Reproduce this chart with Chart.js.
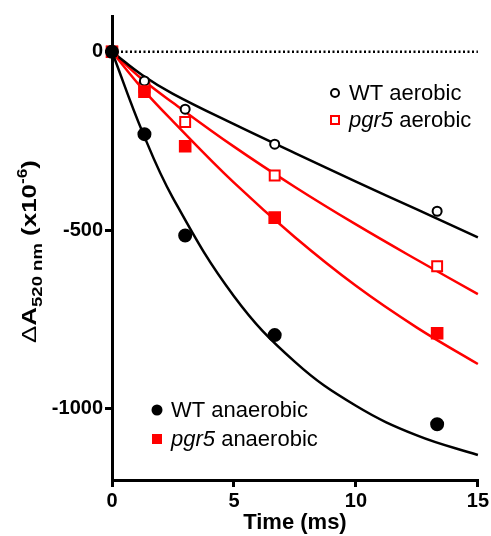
<!DOCTYPE html>
<html>
<head>
<meta charset="utf-8">
<script src="https://cdn.jsdelivr.net/npm/chart.js@4.4.0/dist/chart.umd.min.js"></script>
<style>
  html, body { margin: 0; padding: 0; background: #fff; }
  #wrap { position: relative; width: 491px; height: 536px; }
</style>
</head>
<body>
<div id="wrap"><canvas id="myChart"></canvas></div>
<script>
// measured points: time (ms) vs dA520 (x10^-6)
const timePoints = [0, 1.33, 3, 6.67, 13.33];
const wtAerobic = [0, -82, -161, -259, -447];
const pgr5Aerobic = [0, -100, -197, -347, -601];
const wtAnaerobic = [0, -231, -515, -794, -1044];
const pgr5Anaerobic = [0, -112, -265, -465, -789];

// fitted curves
const fitTimes = [0, 1.25, 2.5, 5, 7.5, 10, 12.5, 15];
const wtAerobicFit = [0, -66, -118, -203, -284, -364, -442, -520];
const pgr5AerobicFit = [0, -78, -143, -266, -379, -484, -583, -679];
const wtAnaerobicFit = [0, -225, -410, -685, -869, -992, -1075, -1130];
const pgr5AnaerobicFit = [0, -104, -195, -367, -520, -656, -773, -875];

const zeroLineX = [0, 15];
const zeroLineY = [0, 0];
const xTicks = [0, 5, 10, 15];
const yTicks = [-1000, -500, 0];

const RED = '#ff0000';
const BLACK = '#000000';
const FONT = '"Liberation Sans", Arial, Helvetica, sans-serif';

function toXY(xs, ys) {
    return xs.map((x, i) => ({ x: x, y: ys[i] }));
}

function pointSet(label, ys, style, color, filled, radius) {
    return {
        label: label,
        data: toXY(timePoints, ys),
        showLine: false,
        pointStyle: style,
        pointRadius: radius,
        pointHoverRadius: radius,
        pointBorderWidth: 2,
        pointBorderColor: color,
        pointBackgroundColor: filled ? color : '#ffffff',
        clip: false,
        order: 0
    };
}

function fitSet(ys, color) {
    return {
        data: toXY(fitTimes, ys),
        showLine: true,
        borderColor: color,
        borderWidth: 2.5,
        pointRadius: 0,
        tension: 0.4,
        clip: false,
        order: 1
    };
}

// legend + axis titles drawn by hand (italic gene name, sub/superscripts)
const textPlugin = {
    id: 'textPlugin',
    afterDraw(chart) {
        const ctx = chart.ctx;
        ctx.save();

        // x axis title
        ctx.fillStyle = BLACK;
        ctx.font = 'bold 22px ' + FONT;
        ctx.textAlign = 'center';
        ctx.textBaseline = 'middle';
        const ca = chart.chartArea;
        ctx.fillText('Time (ms)', (ca.left + ca.right) / 2, 523);

        // y axis title
        const parts = [
            { t: '\u0394', f: '21px ' + FONT, dy: 0 },
            { t: 'A', f: 'bold 21px ' + FONT, dy: 0 },
            { t: '520 nm', f: 'bold 15px ' + FONT, dy: 6 },
            { t: ' (x10', f: 'bold 21px ' + FONT, dy: 0 },
            { t: '-6', f: 'bold 14px ' + FONT, dy: -9 },
            { t: ')', f: 'bold 21px ' + FONT, dy: 0 }
        ];
        let total = 0;
        parts.forEach(p => { ctx.font = p.f; p.w = ctx.measureText(p.t).width; total += p.w; });
        const stretch = 183 / total;
        ctx.translate(36, 343);
        ctx.rotate(-Math.PI / 2);
        ctx.scale(stretch, 1);
        ctx.textAlign = 'left';
        ctx.textBaseline = 'alphabetic';
        let pos = 0;
        parts.forEach(p => { ctx.font = p.f; ctx.fillText(p.t, pos, p.dy); pos += p.w; });
        ctx.restore();

        // legends
        ctx.save();
        ctx.textBaseline = 'middle';
        ctx.textAlign = 'left';
        const drawEntry = (mx, my, kind, color, filled, gene, rest) => {
            ctx.lineWidth = 2;
            ctx.strokeStyle = color;
            ctx.fillStyle = color;
            ctx.beginPath();
            if (kind === 'circle') {
                const r = filled ? 5.5 : 4;
                ctx.arc(mx, my, r, 0, Math.PI * 2);
            } else {
                const s = filled ? 5 : 4;
                ctx.rect(mx - s, my - s, 2 * s, 2 * s);
            }
            if (filled) ctx.fill(); else ctx.stroke();
            let x = mx + 14;
            ctx.fillStyle = BLACK;
            if (gene) {
                ctx.font = 'italic 22px ' + FONT;
                ctx.fillText(gene, x, my + 1);
                x += ctx.measureText(gene).width;
            }
            ctx.font = '22px ' + FONT;
            ctx.fillText(rest, x, my + 1);
        };
        drawEntry(335, 93, 'circle', BLACK, false, '', 'WT aerobic');
        drawEntry(335, 120, 'rect', RED, false, 'pgr5', ' aerobic');
        drawEntry(157, 410, 'circle', BLACK, true, '', 'WT anaerobic');
        drawEntry(157, 439, 'rect', RED, true, 'pgr5', ' anaerobic');
        ctx.restore();
    }
};

const ctx = document.getElementById('myChart').getContext('2d');
const myChart = new Chart(ctx, {
    type: 'scatter',
    data: {
        datasets: [
            pointSet('WT anaerobic', wtAnaerobic, 'circle', BLACK, true, 6),
            pointSet('pgr5 anaerobic', pgr5Anaerobic, 'rect', RED, true, 7.5),
            pointSet('WT aerobic', wtAerobic, 'circle', BLACK, false, 4.5),
            pointSet('pgr5 aerobic', pgr5Aerobic, 'rect', RED, false, 7),
            fitSet(wtAerobicFit, BLACK),
            fitSet(pgr5AerobicFit, RED),
            fitSet(wtAnaerobicFit, BLACK),
            fitSet(pgr5AnaerobicFit, RED),
            {
                data: toXY(zeroLineX, zeroLineY),
                showLine: true,
                borderColor: BLACK,
                borderWidth: 2.5,
                borderDash: [2, 2.5],
                pointRadius: 0,
                order: 2
            }
        ]
    },
    options: {
        responsive: true,
        maintainAspectRatio: false,
        animation: false,
        events: [],
        layout: { padding: { top: 16, right: 10, left: 0, bottom: 0 } },
        plugins: {
            legend: { display: false },
            tooltip: { enabled: false }
        },
        scales: {
            x: {
                type: 'linear',
                min: 0,
                max: 15,
                afterBuildTicks: s => { s.ticks = xTicks.map(v => ({ value: v })); },
                afterFit: s => { s.height = 56; },
                ticks: {
                    color: BLACK,
                    font: { family: FONT, size: 20, weight: 'bold' },
                    padding: 2,
                    maxRotation: 0,
                    callback: v => String(v)
                },
                grid: {
                    drawOnChartArea: false,
                    drawTicks: true,
                    tickLength: 7,
                    lineWidth: 3,
                    color: BLACK
                },
                border: { display: true, width: 3, color: BLACK }
            },
            y: {
                type: 'linear',
                min: -1200,
                max: 100,
                afterBuildTicks: s => { s.ticks = yTicks.map(v => ({ value: v })); },
                afterFit: s => { s.width = 112; },
                ticks: {
                    color: BLACK,
                    font: { family: FONT, size: 20, weight: 'bold' },
                    padding: 2,
                    callback: v => String(v)
                },
                grid: {
                    drawOnChartArea: false,
                    drawTicks: true,
                    tickLength: 7,
                    lineWidth: 3,
                    color: BLACK
                },
                border: { display: true, width: 3, color: BLACK }
            }
        }
    },
    plugins: [textPlugin]
});
</script>
</body>
</html>
